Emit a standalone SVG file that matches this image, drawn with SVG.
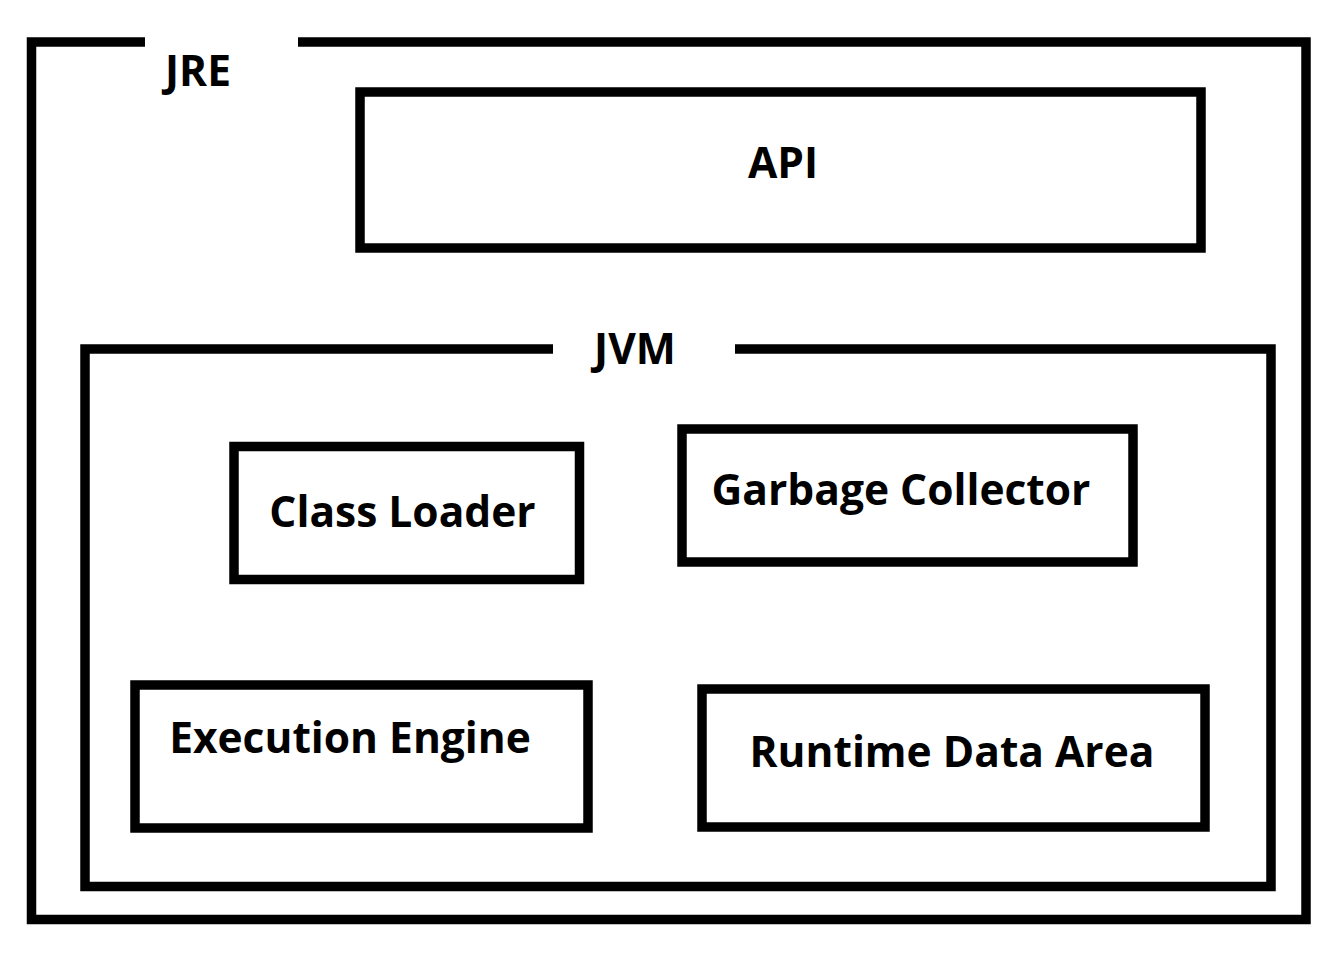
<svg xmlns="http://www.w3.org/2000/svg" width="1336" height="956" viewBox="0 0 1336 956">
<style>
.frame{fill:none;stroke:#000;stroke-width:9.5;stroke-linejoin:miter}
.box{fill:#fff;stroke:#000;stroke-width:9.5}
.t{font-family:"Open Sans","Noto Sans",sans-serif;font-weight:bold;font-size:42.5px;fill:#000}
</style>
<rect width="1336" height="956" fill="#fff"/>
<g id="jre">
<path class="frame" d="M145,42 H31.5 V919.5 H1306 V42 H298"/>
<text class="t" x="165" y="86">JRE</text>
</g>
<g id="api">
<rect class="box" x="360" y="92" width="841" height="156"/>
<text class="t" x="783" y="178" text-anchor="middle">API</text>
</g>
<g id="jvm">
<path class="frame" d="M553,349 H85 V886.5 H1271 V349 H735"/>
<text class="t" x="635" y="364" text-anchor="middle">JVM</text>
</g>
<g id="class-loader">
<rect class="box" x="234" y="446.5" width="345.5" height="133"/>
<text class="t" x="402.5" y="527" text-anchor="middle">Class Loader</text>
</g>
<g id="garbage-collector">
<rect class="box" x="682" y="429" width="451" height="133"/>
<text class="t" x="901" y="505" text-anchor="middle">Garbage Collector</text>
</g>
<g id="execution-engine">
<rect class="box" x="135" y="685" width="453" height="143"/>
<text class="t" x="350" y="753" text-anchor="middle">Execution Engine</text>
</g>
<g id="runtime-data-area">
<rect class="box" x="702" y="689" width="503" height="138"/>
<text class="t" x="952" y="767" text-anchor="middle">Runtime Data Area</text>
</g>
<g id="connectors"/>
</svg>
